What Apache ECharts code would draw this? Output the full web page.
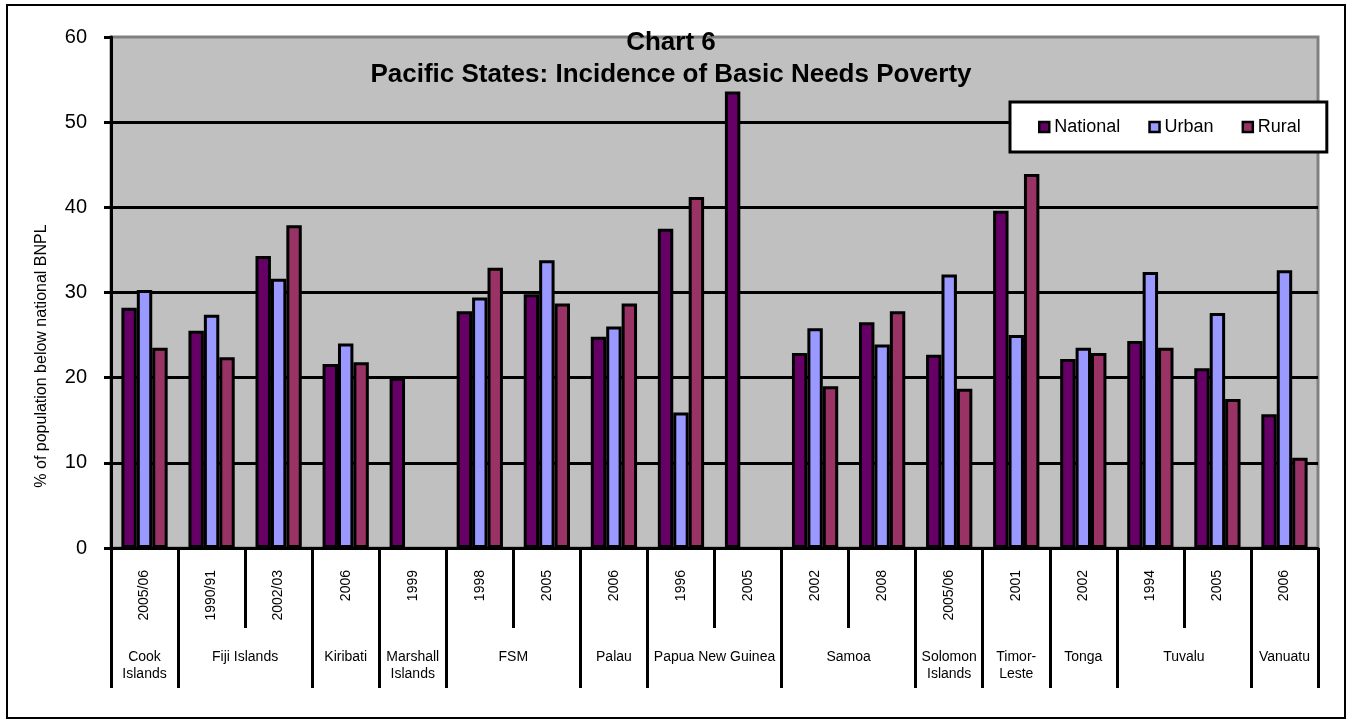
<!DOCTYPE html>
<html>
<head>
<meta charset="utf-8">
<title>Chart 6</title>
<script src="https://cdn.jsdelivr.net/npm/echarts@6/dist/echarts.min.js"></script>
<style>
  html, body { margin: 0; padding: 0; background: #ffffff; }
  #chart { width: 1352px; height: 726px; }
</style>
</head>
<body>
<div id="chart"></div>
<script>
// Survey years, one bar group per entry
const years = ['2005/06', '1990/91', '2002/03', '2006', '1999', '1998', '2005', '2006', '1996',
               '2005', '2002', '2008', '2005/06', '2001', '2002', '1994', '2005', '2006'];
// Countries and how many survey years each one covers
const countries = ['Cook\nIslands', 'Fiji Islands', 'Kiribati', 'Marshall\nIslands', 'FSM', 'Palau',
                   'Papua New Guinea', 'Samoa', 'Solomon\nIslands', 'Timor-\nLeste', 'Tonga', 'Tuvalu', 'Vanuatu'];
const countrySpans = [1, 2, 1, 1, 2, 1, 2, 2, 1, 1, 1, 2, 1];

// % of population below the national basic needs poverty line
const national = [28.2, 25.5, 34.3, 21.6, 20.0, 27.8, 29.8, 24.8, 37.5, 53.6, 22.9, 26.5, 22.7, 39.6, 22.2, 24.3, 21.1, 15.7];
const urban    = [30.3, 27.4, 31.6, 24.0, null, 29.4, 33.8, 26.0, 15.9, null, 25.8, 23.9, 32.1, 25.0, 23.5, 32.4, 27.6, 32.6];
const rural    = [23.5, 22.4, 37.9, 21.8, null, 32.9, 28.7, 28.7, 41.2, null, 19.0, 27.8, 18.7, 43.9, 22.9, 23.5, 17.5, 10.6];

const yTicks = [0, 10, 20, 30, 40, 50, 60];

const FONT = "'Liberation Sans', Arial, Helvetica, sans-serif";

// Country axis: points on half-category steps, boundaries on even points,
// country names at the middle of their span.
const halfPoints = [];
const countryLabelAt = {};
const boundaryAt = new Set([0]);
let start = 0;
countries.forEach((name, i) => {
  countryLabelAt[2 * start + countrySpans[i]] = name;
  start += countrySpans[i];
  boundaryAt.add(2 * start);
});
for (let k = 0; k <= 2 * years.length; k++) halfPoints.push(String(k));

const chart = echarts.init(document.getElementById('chart'), null, { renderer: 'canvas' });

const barBorder = { borderColor: '#000000', borderWidth: 3 };

chart.setOption({
  animation: false,
  backgroundColor: '#ffffff',
  textStyle: { fontFamily: FONT, color: '#000000' },
  title: {
    text: 'Chart 6\nPacific States: Incidence of Basic Needs Poverty',
    left: 671,
    top: 27,
    padding: 0,
    textAlign: 'center',
    textStyle: { fontFamily: FONT, fontSize: 26, fontWeight: 'bold', lineHeight: 32, color: '#000000' }
  },
  legend: {
    left: 1010,
    top: 102,
    padding: [16, 26, 16, 28],
    itemGap: 28,
    itemWidth: 10,
    itemHeight: 10,
    icon: 'rect',
    backgroundColor: '#ffffff',
    borderColor: '#000000',
    borderWidth: 3,
    itemStyle: { borderColor: '#000000', borderWidth: 2.5 },
    textStyle: { fontFamily: FONT, fontSize: 18, color: '#000000', padding: [0, 0, 0, 0] },
    data: ['National', 'Urban', 'Rural']
  },
  grid: {
    left: 111,
    top: 37,
    right: 34,
    bottom: 178,
    show: true,
    backgroundColor: '#C0C0C0',
    borderColor: '#808080',
    borderWidth: 3,
    containLabel: false
  },
  xAxis: [
    {
      type: 'category',
      data: years,
      position: 'bottom',
      axisLine: { show: true, lineStyle: { color: '#000000', width: 3 } },
      axisTick: { show: true, length: 80, interval: 0, lineStyle: { color: '#000000', width: 3 } },
      axisLabel: {
        interval: 0, rotate: 90, margin: 22, fontSize: 14, fontFamily: FONT, color: '#000000', hideOverlap: false
      },
      splitLine: { show: false }
    },
    {
      type: 'category',
      data: halfPoints,
      boundaryGap: false,
      position: 'bottom',
      axisLine: { show: false },
      axisTick: {
        show: true,
        length: 140,
        interval: (index) => boundaryAt.has(index),
        lineStyle: { color: '#000000', width: 3 }
      },
      axisLabel: {
        interval: 0,
        margin: 101,
        fontSize: 14,
        lineHeight: 17,
        fontFamily: FONT,
        color: '#000000',
        hideOverlap: false,
        formatter: (value, index) => countryLabelAt[index] || ''
      },
      splitLine: { show: false }
    }
  ],
  yAxis: {
    type: 'value',
    min: yTicks[0],
    max: yTicks[yTicks.length - 1],
    interval: 10,
    axisLine: { show: true, lineStyle: { color: '#000000', width: 3 } },
    axisTick: { show: true, length: 7, lineStyle: { color: '#000000', width: 3 } },
    axisLabel: { margin: 24, fontSize: 20, fontFamily: FONT, color: '#000000' },
    splitLine: {
      show: true,
      showMaxLine: false,
      lineStyle: { color: ['#000000', '#000000', '#000000', '#000000', '#000000', '#000000', '#808080'], width: 3 }
    }
  },
  graphic: [
    {
      type: 'rect',
      z: -10,
      silent: true,
      shape: { x: 7, y: 5, width: 1338, height: 713 },
      style: { fill: 'none', stroke: '#000000', lineWidth: 2 }
    },
    {
      type: 'text',
      silent: true,
      x: 42,
      y: 356,
      rotation: Math.PI / 2,
      style: {
        text: '% of population below national BNPL',
        font: '16px ' + FONT,
        fill: '#000000',
        align: 'center',
        verticalAlign: 'middle'
      }
    }
  ],
  series: [
    {
      name: 'National', type: 'bar', data: national, xAxisIndex: 0,
      barGap: '0%', barCategoryGap: '31%',
      itemStyle: Object.assign({ color: '#660066' }, barBorder)
    },
    {
      name: 'Urban', type: 'bar', data: urban, xAxisIndex: 0,
      barGap: '0%', barCategoryGap: '31%',
      itemStyle: Object.assign({ color: '#9999FF' }, barBorder)
    },
    {
      name: 'Rural', type: 'bar', data: rural, xAxisIndex: 0,
      barGap: '0%', barCategoryGap: '31%',
      itemStyle: Object.assign({ color: '#993366' }, barBorder)
    }
  ]
});
</script>
</body>
</html>
